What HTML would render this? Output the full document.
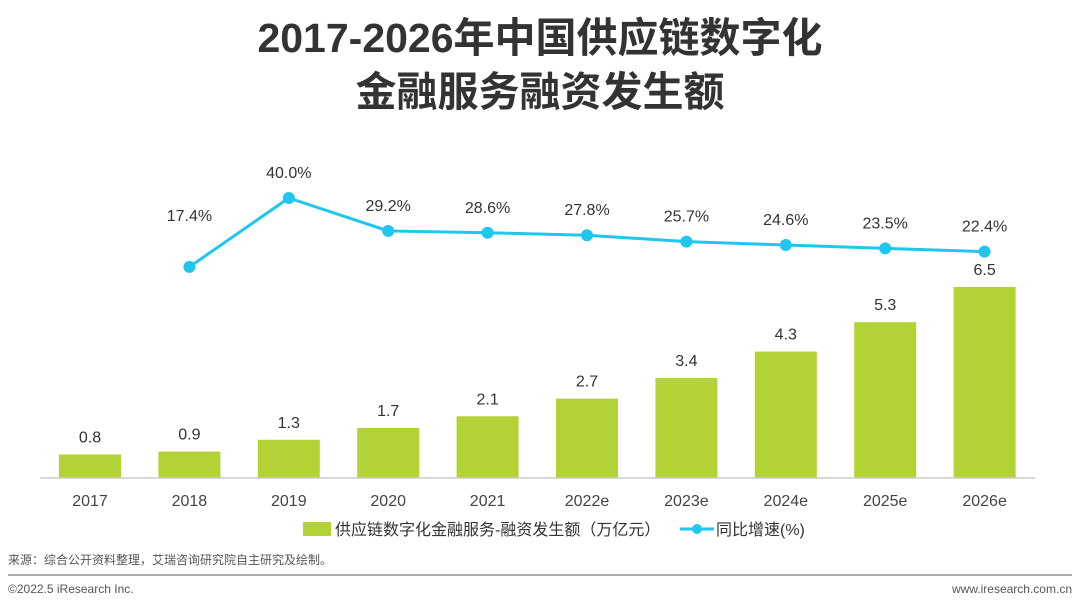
<!DOCTYPE html>
<html><head><meta charset="utf-8"><style>
body{margin:0;width:1080px;height:608px;background:#fff;overflow:hidden;font-family:"Liberation Sans","Noto Sans CJK SC",sans-serif;}
.t{position:absolute;left:0;width:1080px;text-align:center;font-weight:bold;font-size:41px;color:#333;line-height:1.2;}
</style></head><body>
<div class="t" style="top:14px">2017-2026年中国供应链数字化</div>
<div class="t" style="top:68px">金融服务融资发生额</div>
<svg id="c" width="1080" height="608" style="position:absolute;left:0;top:0"></svg>
<script>
const categories=["2017","2018","2019","2020","2021","2022e","2023e","2024e","2025e","2026e"];
const amounts=[0.8,0.9,1.3,1.7,2.1,2.7,3.4,4.3,5.3,6.5];
const growth=[null,17.4,40.0,29.2,28.6,27.8,25.7,24.6,23.5,22.4];
const amountLabels=["0.8","0.9","1.3","1.7","2.1","2.7","3.4","4.3","5.3","6.5"];
const growthLabels=["","17.4%","40.0%","29.2%","28.6%","27.8%","25.7%","24.6%","23.5%","22.4%"];
const svg=document.getElementById('c');const NS='http://www.w3.org/2000/svg';
function mk(t,a,p){const e=document.createElementNS(NS,t);for(const k in a)e.setAttribute(k,a[k]);(p||svg).appendChild(e);return e;}
const x=i=>90+i*99.4;
const yB=v=>478-v*29.4;
const yL=v=>320-v*3.05;
const bw=62;
categories.forEach((c,i)=>{
 const r=mk('rect',{x:x(i)-bw/2,y:yB(amounts[i]),width:bw,height:478-yB(amounts[i]),fill:'#b2d235'});
 
 
 const l=mk('text',{x:x(i),y:yB(amounts[i])-12,'text-anchor':'middle','font-size':16,fill:'#333'});l.textContent=amountLabels[i];
 
 
 const t=mk('text',{x:x(i),y:506,'text-anchor':'middle','font-size':16,fill:'#444'});t.textContent=c;
 
 
});
const ax=mk('line',{x1:40,x2:1035,y1:478,y2:478,stroke:'#ccc','stroke-width':1.5});


let d='';growth.forEach((g,i)=>{if(g==null)return;d+=(d?'L':'M')+x(i)+' '+yL(g);});
const pl=mk('path',{d:d,fill:'none',stroke:'#1fc7ef','stroke-width':3});


growth.forEach((g,i)=>{if(g==null)return;
 const p=mk('circle',{cx:x(i),cy:yL(g),r:6,fill:'#1fc7ef'});
 
 
 const off=(i===1)?46:20;
 const l=mk('text',{x:x(i),y:yL(g)-off,'text-anchor':'middle','font-size':16,fill:'#333'});l.textContent=growthLabels[i];
 
 
});
const lg1=mk('rect',{x:303,y:522,width:28,height:14,fill:'#b2d235'});


const lt1=mk('text',{x:335,y:535,'font-size':16,fill:'#333'});lt1.textContent='供应链数字化金融服务-融资发生额（万亿元）';


const lg2=mk('line',{x1:680,x2:714,y1:529,y2:529,stroke:'#1fc7ef','stroke-width':3});


mk('circle',{cx:697,cy:529,r:5,fill:'#1fc7ef'});
const lt2=mk('text',{x:716,y:535,'font-size':16,fill:'#333'});lt2.textContent='同比增速(%)';


const src=mk('text',{x:8,y:564,'font-size':12,fill:'#555'});src.textContent='来源：综合公开资料整理，艾瑞咨询研究院自主研究及绘制。';


const hr=mk('line',{x1:8,x2:1072,y1:575,y2:575,stroke:'#aaa','stroke-width':2});


const f1=mk('text',{x:8,y:593,'font-size':12,fill:'#555'});f1.textContent='©2022.5 iResearch Inc.';


const f2=mk('text',{x:1072,y:593,'font-size':12,fill:'#555','text-anchor':'end'});f2.textContent='www.iresearch.com.cn';


</script>
</body></html>
